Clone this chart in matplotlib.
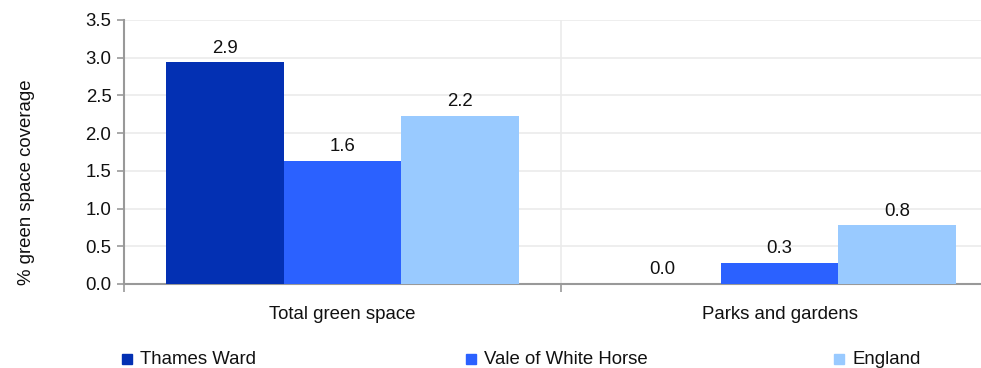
import matplotlib
matplotlib.use("Agg")
import matplotlib.pyplot as plt
from matplotlib.patches import Rectangle
import numpy as np

plt.rcParams['font.family'] = ['Liberation Sans', 'DejaVu Sans']

categories = ["Total green space", "Parks and gardens"]
series = ["Thames Ward", "Vale of White Horse", "England"]
thames = [2.94, 0.0]
vale = [1.63, 0.28]
england = [2.23, 0.78]
yticks = [0.0, 0.5, 1.0, 1.5, 2.0, 2.5, 3.0, 3.5]
colors = ["#0330B3", "#2B61FF", "#99CAFF"]

FS = 13.4
W, H = 981, 368
fig = plt.figure(figsize=(W / 100, H / 100), dpi=100)
ax = fig.add_axes([124 / W, (H - 284) / H, (998 - 124) / W, 264 / H])

x = np.arange(len(categories))
bw = 0.269
for i, (vals, c) in enumerate(zip([thames, vale, england], colors)):
    bars = ax.bar(x + (i - 1) * bw, vals, width=bw, color=c, zorder=3)
    ax.bar_label(bars, labels=[f"{v:.1f}" for v in vals], padding=4, fontsize=FS, color="#111111")

ax.set_xlim(-0.5, 1.5)
ax.set_ylim(0, 3.5)
ax.set_yticks(yticks)
ax.set_yticklabels([f"{t:.1f}" for t in yticks], fontsize=FS, color="#111111")
ax.yaxis.grid(True, color="#EBEBEB", linewidth=1.2, zorder=0)
ax.set_xticks(x)
ax.set_xticklabels(categories, fontsize=FS, color="#111111")
ax.set_xticks([-0.5, 0.5, 1.5], minor=True)
ax.tick_params(axis='x', which='major', length=0, pad=16)
ax.tick_params(axis='x', which='minor', length=6, color="#999999", width=1.2)
ax.tick_params(axis='y', length=5, color="#999999", width=1.2, pad=4)
ax.axvline(0.5, color="#EBEBEB", linewidth=1.2, zorder=0)
for s in ["top", "right"]:
    ax.spines[s].set_visible(False)
for s in ["left", "bottom"]:
    ax.spines[s].set_color("#999999")
    ax.spines[s].set_linewidth(1.5)
ax.set_ylabel("% green space coverage", fontsize=FS, color="#111111")
ax.yaxis.set_label_coords(-0.1016, 0.386)

leg_x = [122, 466, 834]
for name, c, lx in zip(series, colors, leg_x):
    fig.patches.append(Rectangle((lx / W, (H - 364) / H), 10 / W, 10 / H,
                                 transform=fig.transFigure, color=c, figure=fig))
    fig.text((lx + 18) / W, (H - 360) / H, name, fontsize=FS, va='center', ha='left', color="#111111")

fig.savefig("out.png", dpi=100)
